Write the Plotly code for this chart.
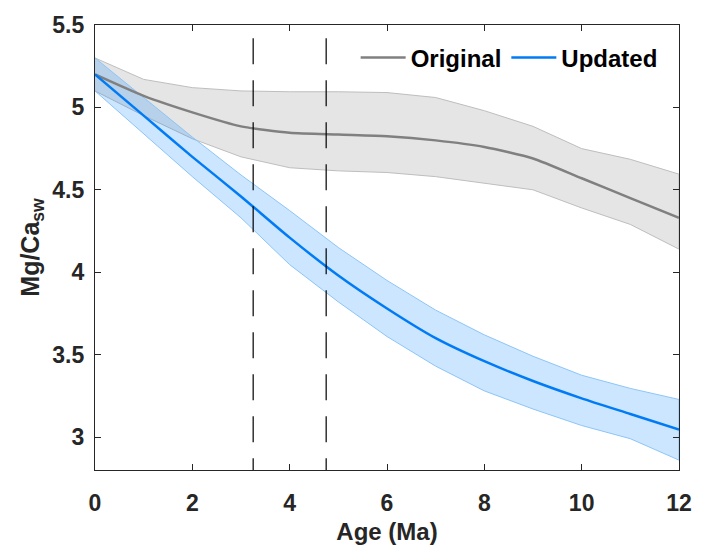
import plotly.graph_objects as go

# ---- data ----
age = [0, 1, 2, 3, 4, 5, 6, 7, 8, 9, 10, 11, 12]

orig_mid = [5.20, 5.07, 4.97, 4.885, 4.846, 4.835, 4.825, 4.80, 4.76, 4.69, 4.57, 4.45, 4.33]
orig_hi = [5.30, 5.17, 5.12, 5.10, 5.095, 5.095, 5.09, 5.06, 4.98, 4.885, 4.75, 4.685, 4.595]
orig_lo = [5.10, 4.95, 4.81, 4.70, 4.634, 4.615, 4.605, 4.58, 4.54, 4.50, 4.39, 4.29, 4.14]

upd_mid = [5.20, 4.95, 4.70, 4.46, 4.21, 3.98, 3.78, 3.60, 3.46, 3.34, 3.235, 3.14, 3.045]
upd_hi = [5.30, 5.06, 4.82, 4.59, 4.374, 4.15, 3.95, 3.77, 3.62, 3.49, 3.375, 3.295, 3.228]
upd_lo = [5.10, 4.84, 4.58, 4.33, 4.046, 3.82, 3.61, 3.43, 3.28, 3.17, 3.07, 2.99, 2.86]

vline_x = [3.25, 4.75]
vline_y = [5.42, 2.8]

x_ticks = [0, 2, 4, 6, 8, 10, 12]
x_tick_labels = ["0", "2", "4", "6", "8", "10", "12"]
y_ticks = [3, 3.5, 4, 4.5, 5, 5.5]
y_tick_labels = ["3", "3.5", "4", "4.5", "5", "5.5"]

FONT = "Liberation Sans"
INK = "rgb(38,38,38)"

fig = go.Figure()

# bands
fig.add_trace(go.Scatter(
    x=age + age[::-1], y=orig_hi + orig_lo[::-1],
    fill="toself", fillcolor="rgb(229,229,229)",
    line=dict(color="rgb(190,190,190)", width=1),
    mode="lines", showlegend=False, hoverinfo="skip"))
fig.add_trace(go.Scatter(
    x=age + age[::-1], y=upd_hi + upd_lo[::-1],
    fill="toself", fillcolor="rgba(0,128,255,0.2)",
    line=dict(color="rgb(140,197,247)", width=1),
    mode="lines", showlegend=False, hoverinfo="skip"))

# center lines
fig.add_trace(go.Scatter(
    x=age, y=orig_mid, mode="lines", name="Original",
    line=dict(color="rgb(128,128,128)", width=2.5, shape="spline", smoothing=0.6)))
fig.add_trace(go.Scatter(
    x=age, y=upd_mid, mode="lines", name="Updated",
    line=dict(color="rgb(0,123,245)", width=2.5, shape="spline", smoothing=0.6)))

# dashed vertical lines
for vx in vline_x:
    fig.add_trace(go.Scatter(
        x=[vx, vx], y=vline_y, mode="lines", showlegend=False, hoverinfo="skip",
        line=dict(color="black", width=1.2, dash="26px,16px")))

axis_common = dict(
    showgrid=False, zeroline=False, showline=True, mirror="ticks",
    linecolor=INK, linewidth=1.2,
    ticks="inside", ticklen=6, tickwidth=1, tickcolor=INK,
    tickfont=dict(family=FONT, size=23, color=INK, weight="bold"),
)

fig.update_layout(
    width=704, height=553,
    margin=dict(l=95, r=15, t=20, b=66),
    paper_bgcolor="white", plot_bgcolor="white",
    font=dict(family=FONT, color=INK),
    xaxis=dict(range=[0, 12], tickvals=x_ticks, ticktext=x_tick_labels,
               ticklabelstandoff=12,
               title=dict(text="Age (Ma)", font=dict(family=FONT, size=24, color=INK, weight="bold"), standoff=8),
               **axis_common),
    yaxis=dict(range=[2.8, 5.5], tickvals=y_ticks, ticktext=y_tick_labels,
               ticklabelstandoff=5,
               title=dict(text="Mg/Ca<sub>sw</sub>", font=dict(family=FONT, size=25, color=INK, weight="bold"), standoff=5),
               **axis_common),
    legend=dict(orientation="h", x=0.972, xanchor="right", y=0.926, yanchor="middle",
                bgcolor="rgba(0,0,0,0)",
                font=dict(family=FONT, size=24, color="black", weight="bold"),
                itemwidth=45, tracegroupgap=0),
)

fig.write_html("out.html", config={"displayModeBar": False},
               post_script="document.body.style.margin='0px';document.body.style.overflow='hidden';")
